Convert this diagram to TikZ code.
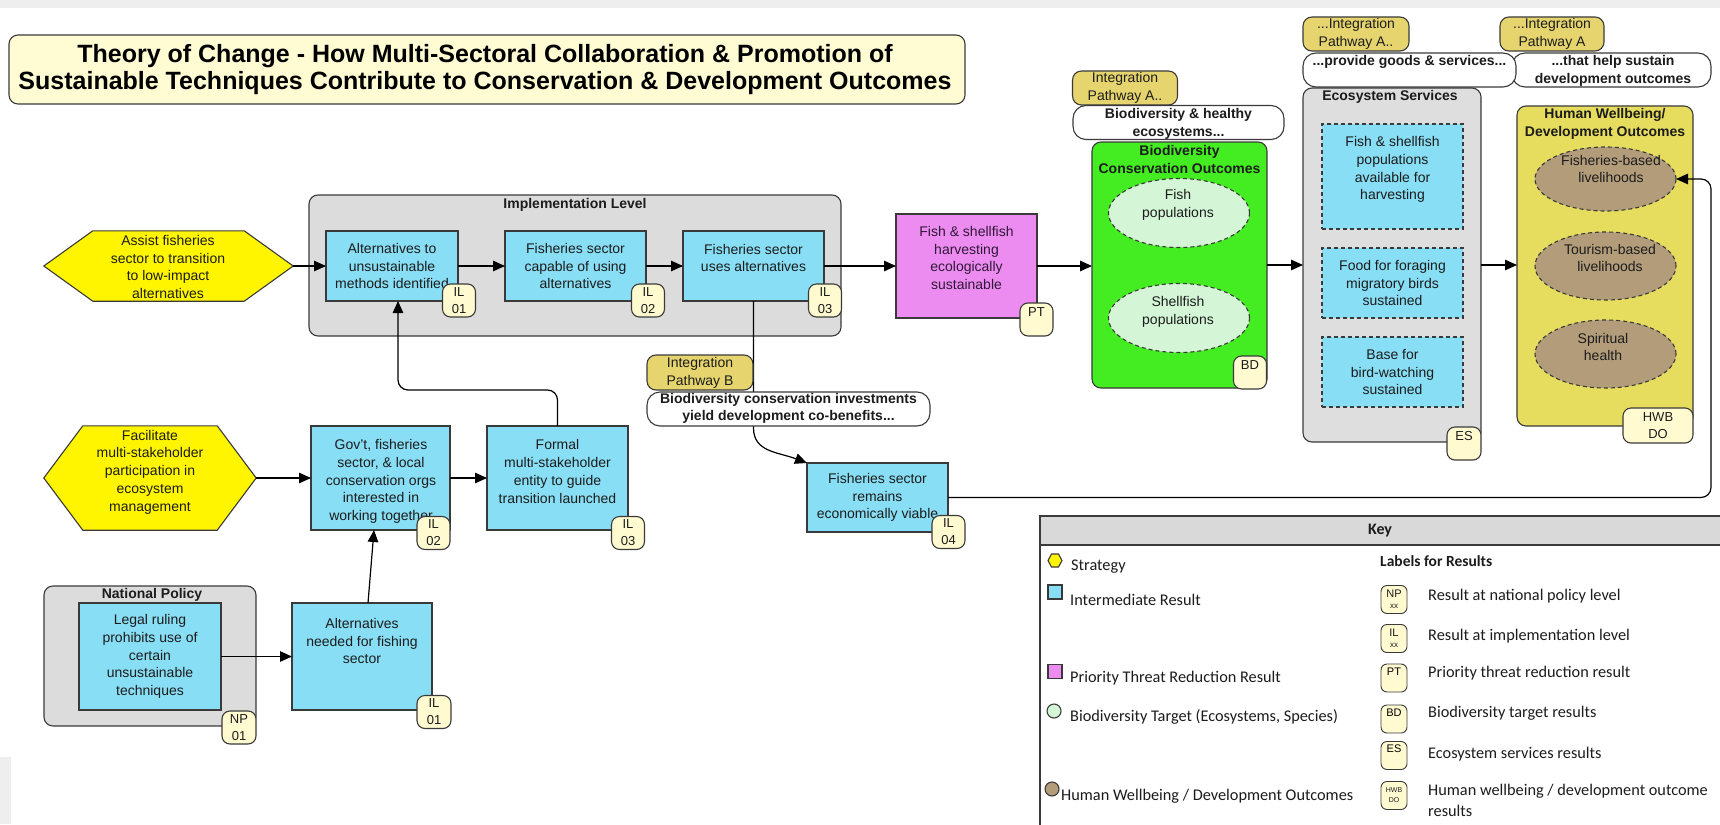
\documentclass[tikz,border=0pt]{standalone}
\usepackage{fontspec}
\setmainfont{Liberation Sans}
\newfontfamily\keyfont{Carlito}
\usetikzlibrary{arrows.meta,calc,shapes.geometric}

\definecolor{ircyan}{HTML}{88DEF5}
\definecolor{ptpink}{HTML}{EC8CF0}
\definecolor{bdgreen}{HTML}{44EC22}
\definecolor{bdpale}{HTML}{D4F6D6}
\definecolor{hexyel}{HTML}{FFF500}
\definecolor{hwbyel}{HTML}{E6DC5E}
\definecolor{hwbbrown}{HTML}{B39C7A}
\definecolor{pathgold}{HTML}{E6D56E}
\definecolor{tagcream}{HTML}{FFFAD0}
\definecolor{titlecream}{HTML}{FFFBD2}
\definecolor{groupgray}{HTML}{DCDCDC}
\definecolor{keygray}{HTML}{D9D9D9}
\definecolor{bandgray}{HTML}{EEEEEE}
\definecolor{edge}{HTML}{3A3A3A}
\definecolor{ink}{HTML}{1C1C1C}

\newcommand\bodyfont{\fontsize{14pt}{17.8pt}\selectfont}
\newcommand\headfont{\bfseries\fontsize{14pt}{17.5pt}\selectfont}
\newcommand\tagfont{\fontsize{13pt}{17pt}\selectfont}
\newcommand\bigtitlefont{\bfseries\fontsize{25pt}{27pt}\selectfont}
\newcommand\keyfnt{\keyfont\fontsize{16.3pt}{20pt}\selectfont}

% flat-topped hexagon filling the box of node #1, with points #2 long
\newcommand\hexoutline[2]{%
  \draw[edgeline, fill=hexyel] (#1.west) -- ($(#1.north west)+(#2,0)$)
    -- ($(#1.north east)+(-#2,0)$) -- (#1.east)
    -- ($(#1.south east)+(-#2,0)$) -- ($(#1.south west)+(#2,0)$) -- cycle;}

\begin{document}
\begin{tikzpicture}[x=1pt, y=-1pt,
  edgeline/.style={draw=edge, line width=1.1pt, inner sep=0pt, outer sep=0pt},
  grp/.style={edgeline, fill=groupgray, rounded corners=9pt},
  irbox/.style={edgeline, fill=ircyan, minimum width=141pt, font=\bodyfont, align=center, text=ink},
  esbox/.style={irbox, dash pattern=on 4pt off 3pt},
  tagbox/.style={edgeline, fill=tagcream, rounded corners=8pt, minimum width=33pt,
    minimum height=33pt, font=\tagfont, align=center, text=ink},
  pathtag/.style={edgeline, fill=pathgold, rounded corners=9pt, minimum height=34pt,
    minimum width=105pt, font=\bodyfont, align=center, text=ink},
  notebox/.style={edgeline, fill=white, rounded corners=13pt, minimum height=34pt},
  oval/.style={edgeline, ellipse, dash pattern=on 4pt off 3pt, minimum width=141pt},
  txt/.style={font=\bodyfont, align=center, inner sep=0pt, text=ink},
  head/.style={font=\headfont, align=center, inner sep=0pt, text=ink},
  tagtxt/.style={font=\tagfont, align=center, inner sep=0pt, text=ink},
  conn/.style={line width=1.2pt, draw=black, -{Triangle[length=12pt,width=10.5pt]}},
  keytxt/.style={font=\keyfnt, anchor=west, inner sep=0pt, text=ink},
  keytag/.style={edgeline, line width=0.9pt, fill=tagcream, rounded corners=6pt,
    minimum width=26pt, minimum height=28pt, align=center, text=ink,
    font=\fontsize{11pt}{11pt}\selectfont},
]
\useasboundingbox (0,0) rectangle (1720,824);
\fill[bandgray] (0,0) rectangle (1720,8);
\fill[bandgray] (0,757) rectangle (11,824);

% ---------- title ----------
\node[edgeline, fill=titlecream, rounded corners=9pt, minimum width=956pt,
  minimum height=69pt] (title) at (487,69.5) {};
\node[font=\bigtitlefont, align=center, text=black] (titletext) at (485,70)
  {Theory of Change - How Multi-Sectoral Collaboration \& Promotion of\\
   Sustainable Techniques Contribute to Conservation \& Development Outcomes};

% ---------- strategy 1 ----------
\node[minimum width=249pt, minimum height=70pt, inner sep=0pt] (hex1) at (168.5,266) {};
\hexoutline{hex1}{49}
\node[txt] (hex1t) at (168,267)
  {Assist fisheries\\sector to transition\\to low-impact\\alternatives};

% ---------- implementation level ----------
\node[grp, minimum width=532pt, minimum height=141pt] (impl) at (575,265.5) {};
\node[head] (implt) at (575,205) {Implementation Level};

\node[irbox, minimum width=132pt, minimum height=70pt] (il1) at (392,266)
  {Alternatives to\\unsustainable\\methods identified};
\node[irbox, minimum height=70pt] (il2) at (575.5,266)
  {Fisheries sector\\capable of using\\alternatives};
\node[irbox, minimum height=70pt] (il3) at (753.5,266) {};
\node[txt] (il3t) at (753.5,258) {Fisheries sector\\uses alternatives};
\node[tagbox] (il1tag) at (459,300.5) {IL\\01};
\node[tagbox] (il2tag) at (648,300.5) {IL\\02};
\node[tagbox] (il3tag) at (825,300.5) {IL\\03};

% ---------- priority threat ----------
\node[edgeline, fill=ptpink, minimum width=141pt, minimum height=104pt] (pt) at (966.5,266) {};
\node[txt, text={rgb,255:red,48;green,24;blue,56}] (ptt) at (966.5,258)
  {Fish \& shellfish\\harvesting\\ecologically\\sustainable};
\node[tagbox] (pttag) at (1036.5,319.5) {};
\node[tagtxt] (pttagt) at ([yshift=-9pt]pttag.north) {PT};

% ---------- biodiversity outcomes ----------
\node[edgeline, fill=bdgreen, rounded corners=9pt, minimum width=175pt,
  minimum height=246pt] (bd) at (1179.5,265) {};
\node[head] (bdt) at (1179.5,159.5) {Biodiversity\\Conservation Outcomes};
\node[oval, fill=bdpale, minimum height=69pt] (bdfish) at (1179,213) {};
\node[txt] (bdfisht) at (1178,205) {Fish\\populations};
\node[oval, fill=bdpale, minimum height=69pt] (bdshell) at (1179,318) {};
\node[txt] (bdshellt) at (1178,312) {Shellfish\\populations};
\node[tagbox] (bdtag) at (1250,372.5) {};
\node[tagtxt] (bdtagt) at ([yshift=-9pt]bdtag.north) {BD};

\node[pathtag] (pathA1) at (1125,88) {Integration\\Pathway A..};
\node[notebox, minimum width=211pt] (noteA1) at (1178.5,122.5) {};
\node[head] (noteA1t) at (1178.5,124) {Biodiversity \& healthy\\ecosystems...};

% ---------- ecosystem services ----------
\node[grp, fill={rgb,255:red,222;green,222;blue,222}, minimum width=178pt,
  minimum height=354pt] (es) at (1392,265) {};
\node[head] (est) at (1390,97) {Ecosystem Services};
\node[esbox, minimum height=105pt] (es1) at (1392.5,176.5) {};
\node[txt] (es1t) at (1392.5,169.5)
  {Fish \& shellfish\\populations\\available for\\harvesting};
\node[esbox, minimum height=70pt] (es2) at (1392.5,283)
  {Food for foraging\\migratory birds\\sustained};
\node[esbox, minimum height=70pt] (es3) at (1392.5,372)
  {Base for\\bird-watching\\sustained};
\node[tagbox, minimum width=34pt] (estag) at (1464,443.5) {};
\node[tagtxt] (estagt) at ([yshift=-9pt]estag.north) {ES};

\node[pathtag, minimum width=106pt] (pathA2) at (1356,34) {...Integration\\Pathway A..};
\node[pathtag, minimum width=104pt] (pathA3) at (1552,34) {...Integration\\Pathway A};
\node[notebox, minimum width=199pt] (noteA3) at (1611.5,70) {};
\node[head] (noteA3t) at (1613,71) {...that help sustain\\development outcomes};
\node[notebox, minimum width=213pt] (noteA2) at (1409.5,70) {};
\node[head] (noteA2t) at (1409.5,62) {...provide goods \& services...};

% ---------- human wellbeing ----------
\node[edgeline, fill=hwbyel, rounded corners=9pt, minimum width=176pt,
  minimum height=320pt] (hwb) at (1605,266) {};
\node[head] (hwbt) at (1605,124) {Human Wellbeing/\\Development Outcomes};
\node[oval, fill=hwbbrown, minimum height=64pt] (hwb1) at (1605.5,179) {};
\node[txt] (hwb1t) at (1611,169) {Fisheries-based\\livelihoods};
\node[oval, fill=hwbbrown, minimum height=68pt] (hwb2) at (1605.5,266) {};
\node[txt] (hwb2t) at (1610,258) {Tourism-based\\livelihoods};
\node[oval, fill=hwbbrown, minimum height=68pt] (hwb3) at (1605.5,354) {};
\node[txt] (hwb3t) at (1603,347) {Spiritual\\health};
\node[tagbox, minimum width=70pt, minimum height=35pt] (hwbtag) at (1658,425.5) {HWB\\DO};

% ---------- strategy 2 and its chain ----------
\node[minimum width=212pt, minimum height=104pt, inner sep=0pt] (hex2) at (150,478) {};
\hexoutline{hex2}{39}
\node[txt] (hex2t) at (150,472)
  {Facilitate\\multi-stakeholder\\participation in\\ecosystem\\management};

\node[irbox, minimum width=139pt, minimum height=104pt] (gov) at (380.5,478) {};
\node[txt] (govt) at (381,481.5)
  {Gov't, fisheries\\sector, \& local\\conservation orgs\\interested in\\working together};
\node[irbox, minimum height=104pt] (formal) at (557.5,478) {};
\node[txt] (formalt) at (557.5,471.5)
  {Formal\\multi-stakeholder\\entity to guide\\transition launched};
\node[tagbox] (govtag) at (433.5,533) {IL\\02};
\node[tagbox] (formaltag) at (628,533) {IL\\03};

\node[irbox, minimum height=69pt] (il4) at (877.5,497.5)
  {Fisheries sector\\remains\\economically viable};
\node[tagbox] (il4tag) at (948.5,532) {IL\\04};

% ---------- national policy ----------
\node[grp, minimum width=212pt, minimum height=140pt] (np) at (150,656) {};
\node[head] (npt) at (152,595) {National Policy};
\node[irbox, minimum width=142pt, minimum height=107pt] (legal) at (150,656.5)
  {Legal ruling\\prohibits use of\\certain\\unsustainable\\techniques};
\node[tagbox, minimum width=34pt] (nptag) at (239,727.5) {NP\\01};
\node[irbox, minimum width=140pt, minimum height=107pt] (altn) at (362,656.5) {};
\node[txt] (altnt) at (362,641) {Alternatives\\needed for fishing\\sector};
\node[tagbox, minimum width=34pt] (altntag) at (434,712) {IL\\01};

% ---------- connectors ----------
\coordinate (jn) at (0,390);
\coordinate (rt) at (1711,0);
\draw[conn] (hex1.east) -- (il1.west);
\draw[conn] (il1.east) -- (il2.west);
\draw[conn] (il2.east) -- (il3.west);
\draw[conn] (il3.east) -- (pt.west);
\draw[conn] (pt.east) -- (pt.east -| bd.west);
\draw[conn] (bd.east) -- (bd.east -| es.west);
\draw[conn] (es.east) -- (es.east -| hwb.west);
\draw[conn] (hex2.east) -- (gov.west);
\draw[conn] (gov.east) -- (formal.west);
\draw[conn, rounded corners=10pt] (formal.north) -- (formal.north |- jn) -| ([xshift=6pt]il1.south);
\draw[conn] (legal.east) -- (legal.east -| altn.west);
\draw[conn] ([xshift=6pt]altn.north) -- ([xshift=-6.5pt]gov.south);
\draw[conn, rounded corners=10pt] (il4.east) -- (il4.east -| rt) |- (hwb1.east);
\draw[conn] (il3.south) -- (753.5,428) .. controls (753.5,452) and (778,452) .. (il4.north west);

\node[pathtag, minimum width=106pt, minimum height=35pt] (pathB) at (700,372.5) {Integration\\Pathway B};
\node[notebox, minimum width=283pt] (noteB) at (788.5,409) {};
\node[head] (noteBt) at (788.5,408.5)
  {Biodiversity conservation investments\\yield development co-benefits...};

% ---------- key ----------
\node[edgeline, fill=white, minimum width=690pt, minimum height=314pt,
  anchor=north west] (key) at (1040,516) {};
\node[edgeline, fill=keygray, minimum width=690pt, minimum height=29pt,
  anchor=north west] (keyhead) at (1040,516) {};
\node[font={\keyfont\bfseries\fontsize{16pt}{19pt}\selectfont}, text=ink] (keyt) at (1380,531) {Key};

\draw[edgeline, fill=hexyel] (1048,560.5) -- (1051.5,554) -- (1058.5,554) -- (1062,560.5)
  -- (1058.5,567) -- (1051.5,567) -- cycle;
\node[keytxt] (kstrat) at (1071,567) {Strategy};
\node[edgeline, fill=ircyan, minimum width=14pt, minimum height=14pt] (kirbox) at (1055,592) {};
\node[keytxt] (kir) at (1070,600) {Intermediate Result};
\node[edgeline, fill=ptpink, minimum width=14pt, minimum height=14pt] (kptbox) at (1055,671.5) {};
\node[keytxt] (kpt) at (1070,678) {Priority Threat Reduction Result};
\node[edgeline, circle, fill=bdpale, minimum size=14pt] (kbdc) at (1054,711) {};
\node[keytxt] (kbd) at (1070,717) {Biodiversity Target (Ecosystems, Species)};
\node[edgeline, circle, fill=hwbbrown, minimum size=14pt] (khwbc) at (1052,789) {};
\node[keytxt] (khwb) at (1061,796) {Human Wellbeing / Development Outcomes};

\node[keytxt, font={\keyfont\bfseries\fontsize{15.5pt}{19pt}\selectfont}] (klab) at (1380,561) {Labels for Results};
\node[keytag] (ktnp) at (1394,599.5) {NP\\{\fontsize{8pt}{8pt}\selectfont xx}};
\node[keytag] (ktil) at (1394,638.5) {IL\\{\fontsize{8pt}{8pt}\selectfont xx}};
\node[keytag] (ktpt) at (1394,678) {};
\node[font=\fontsize{11pt}{11pt}\selectfont, inner sep=0pt] (ktptt) at ([yshift=-7.5pt]ktpt.north) {PT};
\node[keytag] (ktbd) at (1394,719) {};
\node[font=\fontsize{11pt}{11pt}\selectfont, inner sep=0pt] (ktbdt) at ([yshift=-7.5pt]ktbd.north) {BD};
\node[keytag] (ktes) at (1394,755.5) {};
\node[font=\fontsize{11pt}{11pt}\selectfont, inner sep=0pt] (ktest) at ([yshift=-7.5pt]ktes.north) {ES};
\node[keytag, font=\fontsize{7pt}{10pt}\selectfont] (kthwb) at (1394,795.5) {HWB\\DO};

\node[keytxt] (knp) at (1428,596) {Result at national policy level};
\node[keytxt] (kil) at (1428,636) {Result at implementation level};
\node[keytxt] (kptl) at (1428,673) {Priority threat reduction result};
\node[keytxt] (kbdl) at (1428,713) {Biodiversity target results};
\node[keytxt] (kesl) at (1428,754) {Ecosystem services results};
\node[keytxt] (khwbl) at (1428,791) {Human wellbeing / development outcome};
\node[keytxt] (khwbl2) at (1428,811) {results};
\end{tikzpicture}
\end{document}
